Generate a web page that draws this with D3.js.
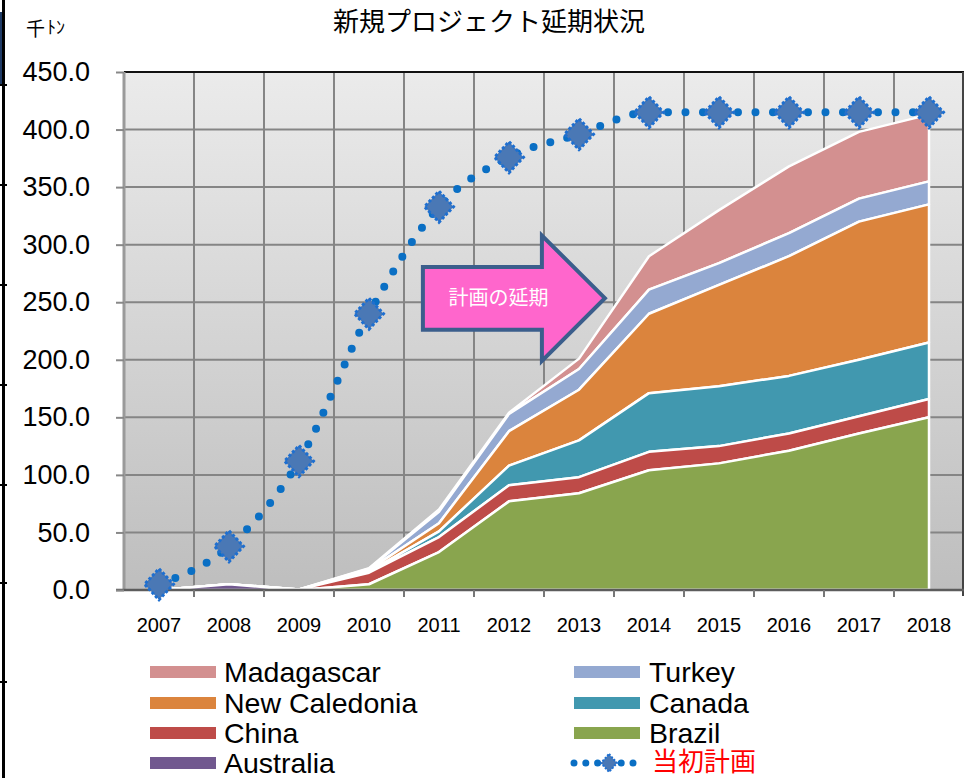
<!DOCTYPE html>
<html><head><meta charset="utf-8">
<script src="https://cdn.jsdelivr.net/npm/d3@7"></script>
<style>
body{margin:0;background:#fff;}
svg{display:block;font-family:"Liberation Sans",Arial,sans-serif;}
</style>
</head><body>
<svg id="c" width="967" height="778"></svg>
<script>
// ---- data ----
const years = ["2007","2008","2009","2010","2011","2012","2013","2014","2015","2016","2017","2018"];
const australia    = [0, 5, 0, 0, 0, 0, 0, 0, 0, 0, 0, 0];
const brazil       = [0, 0, 0, 5, 33, 77, 84, 104, 110, 121, 136, 150];
const china        = [0, 0, 0.5, 10, 13, 14, 14, 16, 15, 15, 15, 16];
const canada       = [0, 0, 0, 1, 5, 17, 32, 51, 52, 50, 49, 49];
const newCaledonia = [0, 0, 0, 1.5, 7, 30, 44, 69, 88, 104, 120, 120];
const turkey       = [0, 0, 0, 1, 10, 15, 18, 21, 19, 20, 20, 20];
const madagascar   = [0, 0, 0, 0.5, 2, 1, 9, 29, 46, 58, 58, 58];
const planned      = [5, 38, 112, 240, 333, 376, 396, 415, 415, 415, 415, 415];
const yTicks = [0, 50, 100, 150, 200, 250, 300, 350, 400, 450];
const seriesNames = ["Australia","Brazil","China","Canada","New Caledonia","Turkey","Madagascar"];
const seriesValues = [australia, brazil, china, canada, newCaledonia, turkey, madagascar];
const seriesColors = ["#71588f","#89a54e","#be4b48","#4198af","#db843d","#94a9d1","#d39090"];
const legendOrder = ["Madagascar","Turkey","New Caledonia","Canada","China","Brazil","Australia"];
const titleText = "新規プロジェクト延期状況";
const unitMain = "千";
const unitSub = "ﾄﾝ";
const arrowText = "計画の延期";
const plannedLabel = "当初計画";

// ---- setup ----
const svg = d3.select("#c");
const L = 124, R = 964, T = 72, B = 590;
const x = d3.scaleBand().domain(years).range([L, R]).padding(0);
const xc = d => x(d) + x.bandwidth() / 2;
const y = d3.scaleLinear().domain([0, 450]).range([B, T]);
const xl = d3.scaleLinear().domain([2007, 2018]).range([xc("2007"), xc("2018")]);
const color = d3.scaleOrdinal().domain(seriesNames).range(seriesColors);

const table = years.map((yr, i) => {
  const row = {year: yr};
  seriesNames.forEach((n, k) => row[n] = seriesValues[k][i]);
  return row;
});
const stacked = d3.stack().keys(seriesNames)(table);

// gradient
const defs = svg.append("defs");
const g1 = defs.append("linearGradient").attr("id","bg").attr("x1",0).attr("y1",0).attr("x2",0).attr("y2",1);
g1.append("stop").attr("offset","0%").attr("stop-color","#ebebeb");
g1.append("stop").attr("offset","100%").attr("stop-color","#bebebe");

// left-edge artifact
svg.append("rect").attr("x",0).attr("y",12).attr("width",5).attr("height",72).attr("fill","#1f3b66");
svg.append("line").attr("x1",3.5).attr("x2",3.5).attr("y1",0).attr("y2",778).attr("stroke","#000").attr("stroke-width",3);
[85,185,285,385,485,583,682].forEach(v=>{
  svg.append("line").attr("x1",0).attr("x2",7).attr("y1",v).attr("y2",v).attr("stroke","#000").attr("stroke-width",2);
});

// plot background
svg.append("rect").attr("x",L).attr("y",T).attr("width",R-L).attr("height",B-T).attr("fill","url(#bg)");

// grid
const grid = svg.append("g").attr("stroke","#858585").attr("stroke-width",2);
yTicks.filter(v => v > 0).forEach(v => {
  grid.append("line").attr("x1",L).attr("x2",R).attr("y1",y(v)).attr("y2",y(v));
});
years.slice(1).forEach(yr => {
  grid.append("line").attr("x1",x(yr)).attr("x2",x(yr)).attr("y1",T).attr("y2",B);
});

// borders
svg.append("line").attr("x1",L).attr("x2",R).attr("y1",T).attr("y2",T).attr("stroke","#111").attr("stroke-width",2);
svg.append("line").attr("x1",R-1).attr("x2",R-1).attr("y1",T).attr("y2",B+6).attr("stroke","#444").attr("stroke-width",2);
svg.append("line").attr("x1",L).attr("x2",L).attr("y1",T).attr("y2",B).attr("stroke","#9a9a9a").attr("stroke-width",3);

// areas
const area = d3.area()
  .x((d, i) => xc(years[i]))
  .y0(d => y(d[0]))
  .y1(d => y(d[1]));
svg.append("g").selectAll("path").data(stacked.slice().reverse()).join("path")
  .attr("d", area)
  .attr("fill", d => color(d.key))
  .attr("stroke", "#fff")
  .attr("stroke-width", 2.5)
  .attr("stroke-linejoin","round");

// x axis
svg.append("line").attr("x1",L-8).attr("x2",R).attr("y1",B).attr("y2",B).attr("stroke","#5c5c5c").attr("stroke-width",2.5);
years.slice(1).forEach(yr => {
  svg.append("line").attr("x1",x(yr)).attr("x2",x(yr)).attr("y1",B).attr("y2",B+7).attr("stroke","#777").attr("stroke-width",2);
});
const xAxis = svg.append("g").attr("transform",`translate(0,${B})`)
  .call(d3.axisBottom(x).tickSize(0).tickPadding(28));
xAxis.select(".domain").remove();
xAxis.selectAll("text").attr("font-size",20).attr("fill","#000").attr("font-family","Liberation Sans, Arial, sans-serif");

// y axis
const yAxis = svg.append("g").attr("transform",`translate(${L},0)`)
  .call(d3.axisLeft(y).tickValues(yTicks).tickFormat(d3.format(".1f")).tickSize(8).tickPadding(26));
yAxis.select(".domain").remove();
yAxis.selectAll(".tick line").attr("stroke","#888").attr("stroke-width",2);
yAxis.selectAll("text").attr("font-size",27).attr("fill","#000").attr("font-family","Liberation Sans, Arial, sans-serif");

// planned line
const pline = d3.line().x((d, i) => xc(years[i])).y(d => y(d)).curve(d3.curveMonotoneX);
svg.append("path").datum(planned).attr("d", pline)
  .attr("fill","none").attr("stroke","#0a6fc4").attr("stroke-width",8)
  .attr("stroke-linecap","round").attr("stroke-dasharray","0 17.5");
function diamond(cx, cy, w, h) {
  return `M${cx},${cy-h}L${cx+w},${cy}L${cx},${cy+h}L${cx-w},${cy}Z`;
}
svg.append("g").selectAll("path").data(planned).join("path")
  .attr("d", (d, i) => diamond(xc(years[i]), y(d), 14.5, 15.5))
  .attr("fill","#4a78b5").attr("stroke","#1e6fd0").attr("stroke-width",3)
  .attr("stroke-dasharray","3 2");

// arrow annotation
const arrowPts = [
  [xl(2010.77), y(280.5)], [xl(2012.47), y(280.5)], [xl(2012.47), y(308)],
  [xl(2013.37), y(253.5)], [xl(2012.47), y(199)], [xl(2012.47), y(226)],
  [xl(2010.77), y(226)]
];
svg.append("path").attr("d", d3.line()(arrowPts) + "Z")
  .attr("fill","#ff66cc").attr("stroke","#3b5e8c").attr("stroke-width",4).attr("stroke-linejoin","miter");
svg.append("text").attr("x", xl(2011.85)).attr("y", y(253.5) + 7)
  .attr("text-anchor","middle").attr("fill","#fff").attr("font-size",20)
  .attr("font-family","Noto Sans CJK JP, sans-serif").text(arrowText);

// title & unit
svg.append("text").attr("x",489).attr("y",31).attr("text-anchor","middle")
  .attr("font-size",26).attr("font-family","Noto Sans CJK JP, sans-serif").attr("fill","#000").text(titleText);
const unit = svg.append("text").attr("x",26).attr("y",36)
  .attr("font-family","Noto Sans CJK JP, sans-serif").attr("fill","#000");
unit.append("tspan").attr("font-size",19).text(unitMain);
unit.append("tspan").attr("font-size",18).attr("dx",2).attr("dy",-2).text(unitSub);

// legend
const legRows = [672, 703, 733, 763];
const legCols = [{sx:150, tx:224}, {sx:574, tx:649}];
legendOrder.forEach((name, i) => {
  const col = legCols[i % 2], row = legRows[Math.floor(i / 2)];
  svg.append("rect").attr("x", col.sx).attr("y", row - 6).attr("width", 66).attr("height", 12)
    .attr("fill", color(name));
  svg.append("text").attr("x", col.tx).attr("y", row + 10).attr("font-size", 28.5)
    .attr("fill", "#000").text(name);
});
{
  const col = legCols[1], row = legRows[3];
  svg.append("line").attr("x1", col.sx).attr("x2", col.sx + 64).attr("y1", row).attr("y2", row)
    .attr("stroke","#0a6fc4").attr("stroke-width",7).attr("stroke-linecap","round").attr("stroke-dasharray","0 11.8");
  svg.append("path").attr("d", diamond(col.sx + 35, row, 8, 9))
    .attr("fill","#4a78b5").attr("stroke","#1e6fd0").attr("stroke-width",2).attr("stroke-dasharray","2 1.5");
  svg.append("text").attr("x", col.tx + 3).attr("y", row + 8).attr("font-size", 26)
    .attr("font-family","Noto Sans CJK JP, sans-serif").attr("fill", "#ff0000").text(plannedLabel);
}
</script>
</body></html>
